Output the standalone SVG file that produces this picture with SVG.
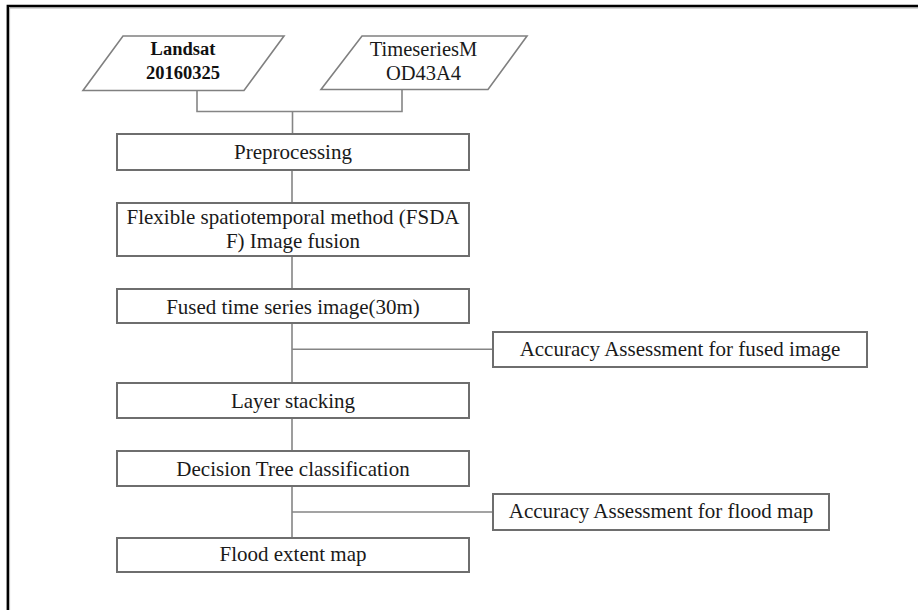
<svg xmlns="http://www.w3.org/2000/svg" width="918" height="610" viewBox="0 0 918 610">
<style>
.box{fill:#fff;stroke:#6e6e6e;stroke-width:2}
.para{fill:#fff;stroke:#808080;stroke-width:1.6}
.ln{fill:none;stroke:#858585;stroke-width:1.6}
.t{font-family:"Liberation Serif","Times New Roman",serif;font-size:21px;fill:#1a1a1a;text-anchor:middle}
.tb{font-family:"Liberation Serif","Times New Roman",serif;font-size:18.5px;font-weight:bold;fill:#111;text-anchor:middle}
.ts{font-family:"Liberation Serif","Times New Roman",serif;font-size:20.5px;fill:#1a1a1a;text-anchor:middle}
</style>
<rect width="918" height="610" fill="#fff"/>
<path d="M9.6,610 V8 H918" fill="none" stroke="#b0b0b0" stroke-width="1"/>
<path d="M7.8,610 V6 H918" fill="none" stroke="#000" stroke-width="2.4"/>
<g id="connectors">
<path class="ln" d="M197,90 V111.5 H402 V90"/>
<path class="ln" d="M292.5,111.5 V134"/>
<path class="ln" d="M292,170 V203"/>
<path class="ln" d="M292,256 V289"/>
<path class="ln" d="M292,323 V383"/>
<path class="ln" d="M292,349.3 H493"/>
<path class="ln" d="M292,418 V451"/>
<path class="ln" d="M292,486 V538"/>
<path class="ln" d="M292,512 H493"/>
</g>
<g id="landsat">
<polygon class="para" points="123,36 284,36 244,90.5 83,90.5"/>
<text class="tb" x="183" y="55">Landsat</text>
<text class="tb" x="183" y="78.5">20160325</text>
</g>
<g id="modis">
<polygon class="para" points="362,36 527,36 488,89.5 321,89.5"/>
<text class="ts" x="423.5" y="56">TimeseriesM</text>
<text class="ts" x="423.5" y="79.5">OD43A4</text>
</g>
<g id="preprocessing">
<rect class="box" x="117" y="134" width="352" height="36"/>
<text class="t" x="293" y="158.5">Preprocessing</text>
</g>
<g id="fusion">
<rect class="box" x="117" y="203" width="352" height="53"/>
<text class="t" x="293" y="224">Flexible spatiotemporal method (FSDA</text>
<text class="t" x="293" y="248">F) Image fusion</text>
</g>
<g id="fused">
<rect class="box" x="117" y="289" width="352" height="34"/>
<text class="t" x="293" y="314">Fused time series image(30m)</text>
</g>
<g id="acc-fused">
<rect class="box" x="493" y="332" width="374" height="35"/>
<text class="t" x="680" y="355.5">Accuracy Assessment for fused image</text>
</g>
<g id="layer">
<rect class="box" x="117" y="383" width="352" height="35"/>
<text class="t" x="293" y="408">Layer stacking</text>
</g>
<g id="decision">
<rect class="box" x="117" y="451" width="352" height="35"/>
<text class="t" x="293" y="476">Decision Tree classification</text>
</g>
<g id="acc-flood">
<rect class="box" x="493" y="494" width="336" height="36"/>
<text class="t" x="661" y="518">Accuracy Assessment for flood map</text>
</g>
<g id="flood">
<rect class="box" x="117" y="538" width="352" height="34"/>
<text class="t" x="293" y="561">Flood extent map</text>
</g>
</svg>
